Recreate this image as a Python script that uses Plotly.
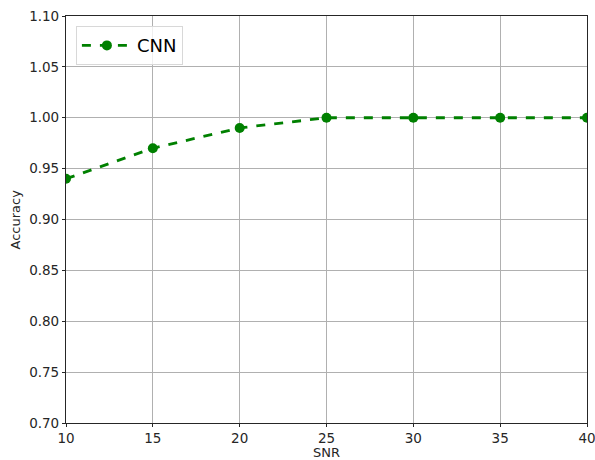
import plotly.graph_objects as go

# SNR levels and classification accuracy of the CNN
snr = [10, 15, 20, 25, 30, 35, 40]
accuracy = [0.94, 0.97, 0.99, 1.00, 1.00, 1.00, 1.00]
x_ticks = [10, 15, 20, 25, 30, 35, 40]
y_ticks = [0.70, 0.75, 0.80, 0.85, 0.90, 0.95, 1.00, 1.05, 1.10]

fig = go.Figure()
fig.add_trace(go.Scatter(
    x=snr, y=accuracy, mode="lines+markers", name="CNN",
    line=dict(color="green", width=2.8, dash="dash"),
    marker=dict(color="green", size=10),
    cliponaxis=True,
))

axis_common = dict(
    showgrid=True, gridcolor="#b0b0b0", gridwidth=1,
    showline=True, linecolor="#262626", linewidth=1.2, mirror=True,
    ticks="outside", ticklen=3, tickcolor="#262626",
    tickfont=dict(family="DejaVu Sans", size=13.5, color="#262626"),
    zeroline=False, automargin=False, ticklabeloverflow="allow",
)

fig.update_layout(
    width=595, height=460,
    margin=dict(l=66, r=8, t=16, b=37),
    paper_bgcolor="white", plot_bgcolor="white",
    xaxis=dict(range=[10, 40], tickvals=x_ticks, ticktext=[str(v) for v in x_ticks],
               title=dict(text="SNR", font=dict(family="DejaVu Sans", size=13, color="#262626")),
               **axis_common),
    yaxis=dict(range=[0.70, 1.10], tickvals=y_ticks, ticktext=[f"{v:.2f}" for v in y_ticks],
               **axis_common),
    legend=dict(x=0.019, y=0.975, xanchor="left", yanchor="top",
                bgcolor="rgba(255,255,255,0.8)", bordercolor="#d8d8d8", borderwidth=1,
                itemwidth=50,
                font=dict(family="DejaVu Sans", size=18, color="black")),
    showlegend=True,
)

# y-axis title placed as a rotated annotation left of the tick labels
fig.add_annotation(
    text="Accuracy", xref="paper", yref="paper", x=-0.096, y=0.5,
    xanchor="center", yanchor="middle", textangle=-90, showarrow=False,
    font=dict(family="DejaVu Sans", size=13, color="#262626"),
)

fig.write_html("out.html")
